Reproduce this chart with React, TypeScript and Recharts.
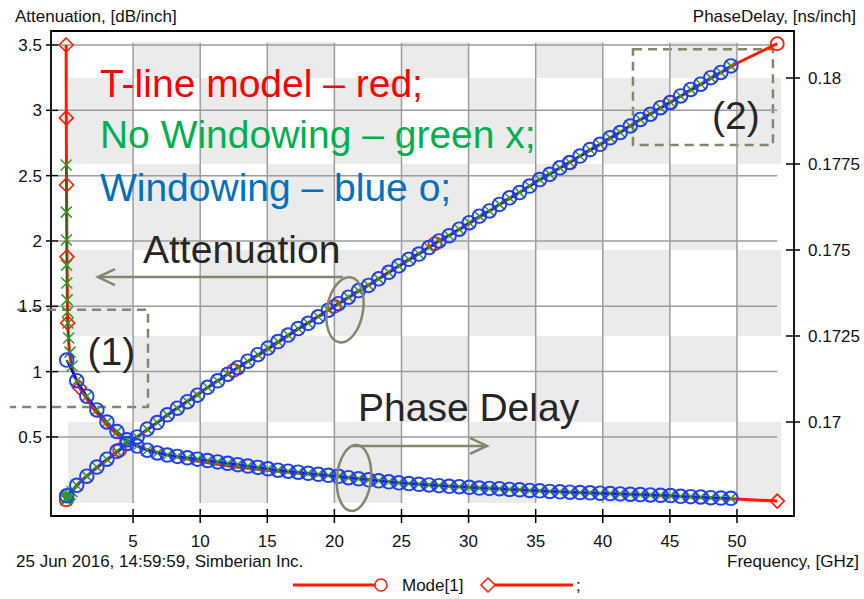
import React from "react";
import {
  LineChart,
  Line,
  XAxis,
  YAxis,
  ReferenceArea,
  ReferenceLine,
  ReferenceDot,
} from "recharts";

const FONT = "'Liberation Sans', Arial, sans-serif";
const OLIVE = "#86866a";
const RED = "#ff1a00";
const GREEN = "#2b9a2b";
const BLUE = "#1f3cff";

// axis ticks
const xTicks = [5, 10, 15, 20, 25, 30, 35, 40, 45, 50];
const attTicks = [0.5, 1, 1.5, 2, 2.5, 3, 3.5];
const pdTicks = [0.17, 0.1725, 0.175, 0.1775, 0.18];

// T-line model (red)
const tlineFreq = [0.01, 0.02, 0.04, 0.07, 0.12, 0.25, 0.5, 1, 2, 3, 4, 5, 6, 8, 10, 12.5, 15, 17.5, 20, 22.5, 25, 27.5, 30, 32.5, 35, 37.5, 40, 42.5, 45, 47.5, 50, 53];
const tlineAtt = [0.02, 0.02, 0.03, 0.03, 0.04, 0.06, 0.09, 0.15, 0.24, 0.32, 0.4, 0.48, 0.55, 0.7, 0.84, 1.01, 1.17, 1.34, 1.5, 1.66, 1.82, 1.98, 2.13, 2.29, 2.45, 2.6, 2.75, 2.91, 3.06, 3.21, 3.36, 3.51];
const tlinePd = [0.18096, 0.17884, 0.17689, 0.1748, 0.17288, 0.172, 0.1715, 0.171, 0.1704, 0.16993, 0.16958, 0.16935, 0.1692, 0.169, 0.16885, 0.1687, 0.1686, 0.1685, 0.16842, 0.16832, 0.16823, 0.16816, 0.1681, 0.16805, 0.168, 0.16796, 0.16792, 0.16789, 0.16785, 0.1678, 0.16776, 0.1677];
const tlineAttMarks = [0.01, 4, 12.5, 20, 27.5, 37.5, 45, 53];
const tlinePdMarks = [0.01, 0.02, 0.04, 0.07, 0.12, 1, 53];

// Windowing (blue o)
const measFreq = [0.05, 0.8, 1.55, 2.3, 3.05, 3.8, 4.55, 5.3, 6.05, 6.8, 7.55, 8.3, 9.05, 9.8, 10.55, 11.3, 12.05, 12.8, 13.55, 14.3, 15.05, 15.8, 16.55, 17.3, 18.05, 18.8, 19.55, 20.3, 21.05, 21.8, 22.55, 23.3, 24.05, 24.8, 25.55, 26.3, 27.05, 27.8, 28.55, 29.3, 30.05, 30.8, 31.55, 32.3, 33.05, 33.8, 34.55, 35.3, 36.05, 36.8, 37.55, 38.3, 39.05, 39.8, 40.55, 41.3, 42.05, 42.8, 43.55, 44.3, 45.05, 45.8, 46.55, 47.3, 48.05, 48.8, 49.55];
const winAtt = [0.05, 0.13, 0.2, 0.27, 0.33, 0.39, 0.45, 0.5, 0.56, 0.61, 0.67, 0.72, 0.77, 0.82, 0.88, 0.93, 0.98, 1.03, 1.08, 1.13, 1.18, 1.23, 1.28, 1.33, 1.37, 1.42, 1.47, 1.52, 1.57, 1.62, 1.66, 1.71, 1.76, 1.81, 1.86, 1.9, 1.95, 2.0, 2.04, 2.09, 2.14, 2.19, 2.23, 2.28, 2.33, 2.37, 2.42, 2.47, 2.51, 2.56, 2.6, 2.65, 2.7, 2.74, 2.79, 2.83, 2.88, 2.93, 2.97, 3.02, 3.06, 3.11, 3.16, 3.2, 3.25, 3.29, 3.34];
const winPd = [0.1718, 0.1712, 0.17075, 0.17035, 0.17, 0.16972, 0.16948, 0.1693, 0.16918, 0.1691, 0.16904, 0.169, 0.16896, 0.16892, 0.16888, 0.16884, 0.1688, 0.16876, 0.16872, 0.16868, 0.16864, 0.1686, 0.16857, 0.16854, 0.16851, 0.16848, 0.16845, 0.16842, 0.16838, 0.16835, 0.16832, 0.16829, 0.16826, 0.16823, 0.16821, 0.16819, 0.16817, 0.16815, 0.16813, 0.16812, 0.1681, 0.16808, 0.16807, 0.16806, 0.16804, 0.16803, 0.16801, 0.168, 0.16798, 0.16797, 0.16796, 0.16795, 0.16794, 0.16793, 0.16792, 0.16791, 0.1679, 0.16789, 0.16788, 0.16787, 0.16786, 0.16784, 0.16783, 0.16782, 0.1678, 0.16779, 0.16778];

// No Windowing (green x): extra low-frequency points, then same as measured grid
const noWinLowFreq = [0.01, 0.02, 0.03, 0.04, 0.06, 0.08, 0.11, 0.15, 0.2, 0.3, 0.45];
const noWinLowAtt = [0.02, 0.02, 0.02, 0.03, 0.03, 0.03, 0.04, 0.04, 0.05, 0.06, 0.08];
const noWinLowPd = [0.17747, 0.1761, 0.17529, 0.17456, 0.17404, 0.17355, 0.1732, 0.17288, 0.17244, 0.17203, 0.17163];

// background checker edges (GHz / ns per inch)
const bandCols = [0.15, 5, 10, 15, 20, 25, 30, 35, 40, 45, 50, 53.3];
const bandRows = [0.167645, 0.17, 0.1725, 0.175, 0.1775, 0.18, 0.18105];

const tlineRows = tlineFreq.map((f, i) => ({ f, att: tlineAtt[i], pd: tlinePd[i] }));
const winRows = measFreq.map((f, i) => ({ f, att: winAtt[i], pd: winPd[i] }));
const noWinRows = [
  ...noWinLowFreq.map((f, i) => ({ f, att: noWinLowAtt[i], pd: noWinLowPd[i] })),
  ...winRows.slice(1),
];

const cells: { x1: number; x2: number; y1: number; y2: number }[] = [];
for (let r = 0; r < bandRows.length - 1; r++) {
  for (let k = 0; k < bandCols.length - 1; k++) {
    if ((r + k) % 2 === 0) {
      cells.push({ x1: bandCols[k], x2: bandCols[k + 1], y1: bandRows[r], y2: bandRows[r + 1] });
    }
  }
}

const notes = [
  { text: "T-line model \u2013 red;", f: 2.53, a: 3.102, color: "#ff0000" },
  { text: "No Windowing \u2013 green x;", f: 2.53, a: 2.711, color: "#00b050" },
  { text: "Windowing \u2013 blue o;", f: 2.53, a: 2.306, color: "#0070c0" },
  { text: "Attenuation", f: 5.74, a: 1.831, color: "#262626" },
  { text: "Phase Delay", f: 21.76, a: 0.622, color: "#262626" },
  { text: "(1)", f: 1.6, a: 1.05, color: "#262626" },
  { text: "(2)", f: 48.14, a: 2.857, color: "#262626" },
];

const hidden = (i: number) => <g key={`h${i}`} />;

const ringDot = (color: string, r: number, sw: number, only?: number[]) => (p: any) => {
  const { cx, cy, index, payload } = p;
  if (cx == null || cy == null || (only && !only.includes(payload.f))) return hidden(index);
  return <circle key={`c${index}`} cx={cx} cy={cy} r={r} fill="none" stroke={color} strokeWidth={sw} />;
};

const diamondDot = (color: string, s: number, only: number[]) => (p: any) => {
  const { cx, cy, index, payload } = p;
  if (cx == null || cy == null || !only.includes(payload.f)) return hidden(index);
  return (
    <polygon
      key={`d${index}`}
      points={`${cx},${cy - s} ${cx + s},${cy} ${cx},${cy + s} ${cx - s},${cy}`}
      fill="none"
      stroke={color}
      strokeWidth={1.6}
    />
  );
};

const crossDot = (color: string, s: number) => (p: any) => {
  const { cx, cy, index } = p;
  if (cx == null || cy == null) return hidden(index);
  return (
    <path
      key={`x${index}`}
      d={`M${cx - s},${cy - s}L${cx + s},${cy + s}M${cx - s},${cy + s}L${cx + s},${cy - s}`}
      stroke={color}
      strokeWidth={1.5}
    />
  );
};

const XTick = ({ x, y, payload }: any) => (
  <g>
    <line x1={x} x2={x} y1={y - 7} y2={y + 7} stroke="#000" strokeWidth={1.5} />
    <text x={x} y={y + 31} textAnchor="middle" fontSize={17} fontFamily={FONT} fill="#111">
      {payload.value}
    </text>
  </g>
);

const LeftTick = ({ x, y, payload }: any) => (
  <g>
    <line x1={x - 5} x2={x + 7} y1={y} y2={y} stroke="#000" strokeWidth={1.5} />
    <text x={x - 9} y={y + 6} textAnchor="end" fontSize={17} fontFamily={FONT} fill="#111">
      {payload.value}
    </text>
  </g>
);

const RightTick = ({ x, y, payload }: any) => (
  <g>
    <line x1={x - 8} x2={x + 6} y1={y} y2={y} stroke="#000" strokeWidth={1.5} />
    <text x={x + 14} y={y + 6} textAnchor="start" fontSize={17} fontFamily={FONT} fill="#111">
      {payload.value}
    </text>
  </g>
);

const arrowShape = (p: any) => {
  const { x1, y1, x2, y2 } = p;
  const d = x1 < x2 ? 1 : -1;
  return (
    <g>
      <line x1={x1} y1={y1} x2={x2} y2={y2} stroke={OLIVE} strokeWidth={2.5} />
      <polyline
        points={`${x1 + d * 17},${y1 - 8} ${x1},${y1} ${x1 + d * 17},${y1 + 8}`}
        fill="none"
        stroke={OLIVE}
        strokeWidth={2.5}
      />
    </g>
  );
};

const ellipseShape = (rx: number, ry: number, rot: number) => (p: any) => (
  <ellipse
    cx={p.cx}
    cy={p.cy}
    rx={rx}
    ry={ry}
    transform={`rotate(${rot} ${p.cx} ${p.cy})`}
    fill="none"
    stroke={OLIVE}
    strokeWidth={2.5}
  />
);

// dashed box with open left side (box 1) or full box (box 2)
const dashBox = (openLeft: boolean) => (p: any) => {
  const { x, y, width, height } = p;
  const d = openLeft
    ? `M${x + 7},${y}H${x + width}V${y + height}H${x}`
    : `M${x},${y}H${x + width}V${y + height}H${x}Z`;
  return <path d={d} fill="none" stroke={OLIVE} strokeWidth={2.5} strokeDasharray="9 6" />;
};

export default function App() {
  return (
    <div style={{ position: "absolute", left: 0, top: 0, width: 864, height: 599, background: "#fff" }}>
      <LineChart width={864} height={599} margin={{ top: 31, right: 0, bottom: 0, left: 0 }}>
        <XAxis
          dataKey="f"
          type="number"
          domain={[-1.118, 54.25]}
          ticks={xTicks}
          interval={0}
          allowDataOverflow
          height={83}
          axisLine={false}
          tickLine={false}
          tickSize={0}
          tickMargin={0}
          tick={(p: any) => <XTick {...p} />}
        />
        <YAxis
          yAxisId="att"
          type="number"
          domain={[-0.105, 3.607]}
          ticks={attTicks}
          interval={0}
          allowDataOverflow
          width={51}
          axisLine={false}
          tickLine={false}
          tickSize={0}
          tickMargin={0}
          tick={(p: any) => <LeftTick {...p} />}
        />
        <YAxis
          yAxisId="pd"
          orientation="right"
          type="number"
          domain={[0.167267, 0.181366]}
          ticks={pdTicks}
          interval={0}
          allowDataOverflow
          width={70}
          axisLine={false}
          tickLine={false}
          tickSize={0}
          tickMargin={0}
          tick={(p: any) => <RightTick {...p} />}
        />

        {cells.map((c, i) => (
          <ReferenceArea
            key={`cell${i}`}
            yAxisId="pd"
            x1={c.x1}
            x2={c.x2}
            y1={c.y1}
            y2={c.y2}
            fill="#ebebeb"
            fillOpacity={1}
            stroke="none"
          />
        ))}
        {xTicks.map((t) => (
          <ReferenceLine
            key={`vg${t}`}
            yAxisId="pd"
            segment={[{ x: t, y: bandRows[0] }, { x: t, y: 0.18102 }]}
            stroke="#9c9c9c"
            strokeWidth={1.5}
          />
        ))}
        {attTicks.map((t) => (
          <ReferenceLine
            key={`hg${t}`}
            yAxisId="att"
            segment={[{ x: -0.65, y: t }, { x: 53, y: t }]}
            stroke="#9c9c9c"
            strokeWidth={1.5}
          />
        ))}

        <Line
          data={tlineRows}
          yAxisId="att"
          dataKey="att"
          type="linear"
          stroke={RED}
          strokeWidth={3}
          dot={ringDot(RED, 6.5, 1.8, tlineAttMarks)}
          activeDot={false}
          isAnimationActive={false}
        />
        <Line
          data={tlineRows}
          yAxisId="pd"
          dataKey="pd"
          type="linear"
          stroke={RED}
          strokeWidth={3}
          dot={diamondDot(RED, 7, tlinePdMarks)}
          activeDot={false}
          isAnimationActive={false}
        />
        <Line
          data={noWinRows}
          yAxisId="att"
          dataKey="att"
          type="linear"
          stroke="#0b6b0b"
          strokeWidth={1}
          dot={crossDot(GREEN, 5.5)}
          activeDot={false}
          isAnimationActive={false}
        />
        <Line
          data={noWinRows}
          yAxisId="pd"
          dataKey="pd"
          type="linear"
          stroke="#0b6b0b"
          strokeWidth={1}
          dot={crossDot(GREEN, 5.5)}
          activeDot={false}
          isAnimationActive={false}
        />
        <Line
          data={winRows}
          yAxisId="att"
          dataKey="att"
          type="linear"
          stroke="#0000d8"
          strokeWidth={2.2}
          dot={ringDot(BLUE, 6.8, 1.9)}
          activeDot={false}
          isAnimationActive={false}
        />
        <Line
          data={winRows}
          yAxisId="pd"
          dataKey="pd"
          type="linear"
          stroke="#0000d8"
          strokeWidth={2.2}
          dot={ringDot(BLUE, 6.8, 1.9)}
          activeDot={false}
          isAnimationActive={false}
        />

        {/* plot frame */}
        <ReferenceArea
          yAxisId="att"
          x1={-1.118}
          x2={54.25}
          y1={-0.105}
          y2={3.607}
          fill="none"
          stroke="#000"
          strokeWidth={1.8}
          ifOverflow="visible"
        />

        {/* annotations */}
        <ReferenceArea
          yAxisId="att"
          x1={-4.17}
          x2={6.11}
          y1={0.729}
          y2={1.473}
          ifOverflow="visible"
          shape={dashBox(true)}
        />
        <ReferenceArea
          yAxisId="att"
          x1={42.25}
          x2={52.68}
          y1={2.735}
          y2={3.468}
          ifOverflow="visible"
          shape={dashBox(false)}
        />
        <ReferenceLine
          yAxisId="att"
          segment={[{ x: 2.38, y: 1.724 }, { x: 20.64, y: 1.724 }]}
          shape={arrowShape}
          ifOverflow="visible"
        />
        <ReferenceLine
          yAxisId="att"
          segment={[{ x: 31.37, y: 0.431 }, { x: 21.3, y: 0.431 }]}
          shape={arrowShape}
          ifOverflow="visible"
        />
        <ReferenceDot yAxisId="att" x={20.79} y={1.473} r={1} shape={ellipseShape(18, 33, 10)} ifOverflow="visible" />
        <ReferenceDot yAxisId="att" x={21.46} y={0.186} r={1} shape={ellipseShape(17, 33, 5)} ifOverflow="visible" />
        {notes.map((n) => (
          <ReferenceDot
            key={n.text}
            yAxisId="att"
            x={n.f}
            y={n.a}
            r={1}
            ifOverflow="visible"
            shape={(p: any) => (
              <text x={p.cx} y={p.cy} fontSize={39} fontFamily={FONT} fill={n.color}>
                {n.text}
              </text>
            )}
          />
        ))}
      </LineChart>

      <svg
        width={864}
        height={599}
        style={{ position: "absolute", left: 0, top: 0, pointerEvents: "none" }}
        fontFamily={FONT}
        fontSize={17}
        fill="#111"
      >
        <text x={15} y={22}>Attenuation, [dB/inch]</text>
        <text x={856} y={22} textAnchor="end">PhaseDelay, [ns/inch]</text>
        <text x={16} y={567}>25 Jun 2016, 14:59:59, Simberian Inc.</text>
        <text x={859} y={567} textAnchor="end">Frequency, [GHz]</text>

        <line x1={293} y1={585} x2={375} y2={585} stroke={RED} strokeWidth={3} />
        <circle cx={381} cy={585} r={6} fill="#fff" stroke={RED} strokeWidth={1.5} />
        <text x={402} y={591}>Mode[1]</text>
        <line x1={494} y1={585} x2={573} y2={585} stroke={RED} strokeWidth={3} />
        <polygon points="488,578 495,585 488,592 481,585" fill="#fff" stroke={RED} strokeWidth={1.5} />
        <text x={576} y={591}>;</text>
      </svg>
    </div>
  );
}
